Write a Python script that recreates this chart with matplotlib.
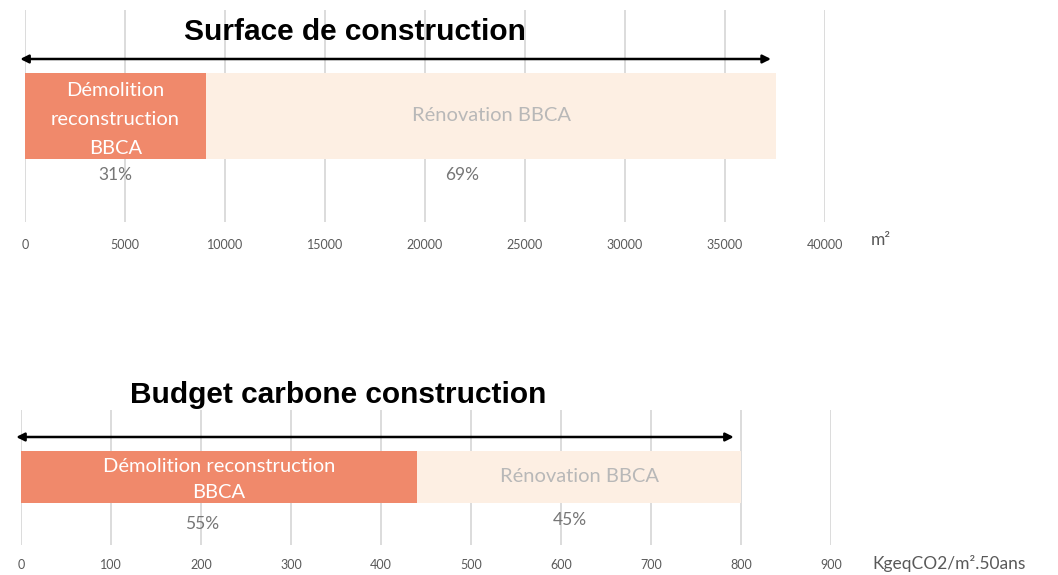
import matplotlib
matplotlib.use("Agg")
import matplotlib.pyplot as plt

# ---- data ----
surface_categories = ["Démolition\nreconstruction\nBBCA", "Rénovation BBCA"]
surface_values = [9050, 28500]
surface_pct = ["31%", "69%"]
surface_ticks = [0, 5000, 10000, 15000, 20000, 25000, 30000, 35000, 40000]

carbone_categories = ["Démolition reconstruction\nBBCA", "Rénovation BBCA"]
carbone_values = [440, 360]
carbone_pct = ["55%", "45%"]
carbone_ticks = [0, 100, 200, 300, 400, 500, 600, 700, 800, 900]

W, H = 1058, 575
fig = plt.figure(figsize=(W / 100, H / 100), dpi=100)

COL_DEMO = "#F0896B"
COL_RENO = "#FDEFE3"
GRID = "#D9D9D9"
TICKC = "#595959"
FONT = "Lato"


def px_axes(x0, x1, ytop, ybot):
    return fig.add_axes([x0 / W, 1 - ybot / H, (x1 - x0) / W, (ybot - ytop) / H])


def draw(ax, cats, vals, pcts, ticks, bar_y0, bar_y1, arrow_y, arrow_end,
         title, title_x, title_y, label_fs, pct_x, pct_y, unit, unit_xy,
         label_ls, tick_pad, label_dy):
    ax.set_xlim(ticks[0], ticks[-1])
    ax.set_ylim(0, 1)
    for s in ax.spines.values():
        s.set_visible(False)
    ax.set_xticks(ticks)
    ax.set_xticklabels([str(t) for t in ticks], fontsize=9, color=TICKC, family=FONT)
    ax.tick_params(axis="x", length=0, pad=tick_pad)
    ax.set_yticks([])
    ax.grid(axis="x", color=GRID, lw=1.3, zorder=0)
    ax.set_axisbelow(True)
    colors = [COL_DEMO, COL_RENO]
    tcols = ["white", "#B8B8B8"]
    left = 0
    for i, (c, v) in enumerate(zip(cats, vals)):
        ax.barh((bar_y0 + bar_y1) / 2, v, left=left, height=bar_y1 - bar_y0,
                color=colors[i], zorder=2)
        dy = label_dy if "\n" in c else 0
        ax.text(left + v / 2, (bar_y0 + bar_y1) / 2 - dy, c, ha="center", va="center",
                color=tcols[i], fontsize=label_fs, family=FONT, zorder=3,
                linespacing=label_ls)
        left += v
    for p, x, y in zip(pcts, pct_x, pct_y):
        ax.text(x, y, p, ha="center", va="center", color="#767676",
                fontsize=12.5, family=FONT, zorder=3)
    ax.annotate("", xy=(arrow_end, arrow_y), xytext=(ticks[0] - (ticks[-1] - ticks[0]) * 0.006, arrow_y),
                arrowprops=dict(arrowstyle="<|-|>", color="black", lw=1.8,
                                mutation_scale=12, shrinkA=0, shrinkB=0),
                annotation_clip=False, zorder=4)
    ax.text(title_x, title_y, title, ha="center", va="center",
            fontsize=21.5, fontweight="bold", family="Liberation Sans",
            transform=ax.transAxes, zorder=5)
    fig.text(unit_xy[0] / W, 1 - unit_xy[1] / H, unit, ha="left", va="center",
             fontsize=12.5, color=TICKC, family=FONT)


# top chart: axes px x 25..825, y 10..222
ax1 = px_axes(25, 825, 10, 222)
to1 = lambda y: (222 - y) / 212
draw(ax1, surface_categories, surface_values, surface_pct, surface_ticks,
     to1(159), to1(73), to1(59), 37300,
     "Surface de construction", (355 - 25) / 800, to1(32), 14.5,
     [4500, 21850], [to1(175), to1(175)], "m²", (871, 240), 1.85, 12, 3.5 / 212)

# bottom chart: axes px x 21..831, y 410..545
ax2 = px_axes(21, 831, 410, 545)
to2 = lambda y: (545 - y) / 135
draw(ax2, carbone_categories, carbone_values, carbone_pct, carbone_ticks,
     to2(503), to2(451), to2(437), 792,
     "Budget carbone construction", (338 - 21) / 810, to2(395), 14.5,
     [201, 610], [to2(524), to2(520)], "KgeqCO2/m².50ans", (872, 563), 1.65, 10, 2.5 / 135)

fig.savefig("out.png", dpi=100)
